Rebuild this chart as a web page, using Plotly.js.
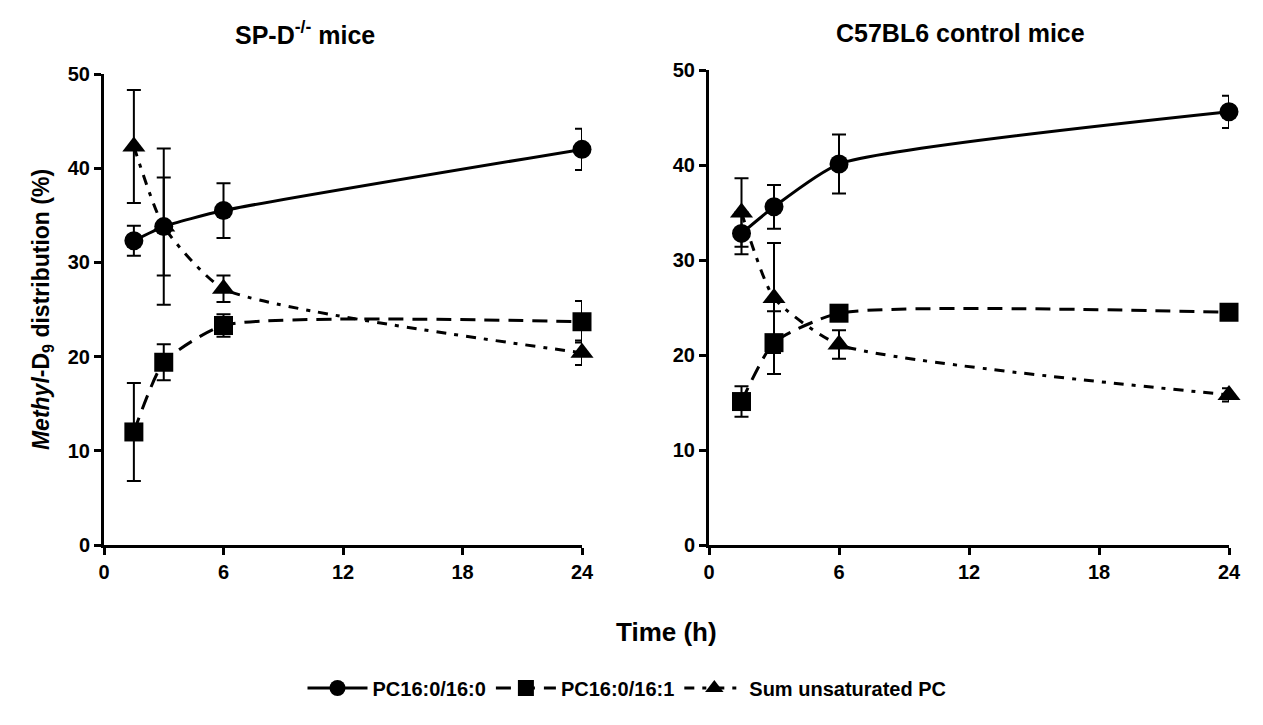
<!DOCTYPE html>
<html>
<head>
<meta charset="utf-8">
<script src="https://cdn.plot.ly/plotly-3.0.1.min.js"></script>
<style>html,body{margin:0;padding:0;background:#fff;}#chart{width:1263px;height:725px;}</style>
</head>
<body>
<div id="chart"></div>
<script>
// Time points (h)
const times = [1.5, 3, 6, 24];
const xTicks = [0, 6, 12, 18, 24];
const yTicks = [0, 10, 20, 30, 40, 50];

// SP-D-/- mice
const spdPC160 = [32.3, 33.8, 35.5, 42.0];
const spdPC160Err = [1.6, 5.2, 2.9, 2.2];
const spdPC161 = [12.0, 19.4, 23.3, 23.7];
const spdPC161Err = [5.2, 1.9, 1.2, 2.2];
const spdSum = [42.3, 33.8, 27.2, 20.4];
const spdSumErr = [6.0, 8.3, 1.4, 1.3];

// C57BL6 control mice
const ctlPC160 = [32.8, 35.6, 40.1, 45.6];
const ctlPC160Err = [2.2, 2.3, 3.1, 1.7];
const ctlPC161 = [15.1, 21.3, 24.4, 24.5];
const ctlPC161Err = [1.6, 3.3, 0.5, 0.3];
const ctlSum = [35.0, 26.0, 21.1, 15.8];
const ctlSumErr = [3.6, 5.8, 1.5, 0.7];

const seriesNames = ['PC16:0/16:0', 'PC16:0/16:1', 'Sum unsaturated PC'];

const FONT = 'Arial, "Liberation Sans", sans-serif';
const styles = [
  {symbol: 'circle', size: 19, dash: 'solid'},
  {symbol: 'square', size: 19, dash: '15px,9px'},
  {symbol: 'triangle-up', size: 20, dash: '10px,8px,4px,8px'}
];

function mk(y, err, idx, xa, ya, showLegend) {
  const s = styles[idx];
  return {
    x: times, y: y, type: 'scatter', mode: 'lines+markers',
    name: seriesNames[idx], legendgroup: seriesNames[idx], showlegend: showLegend,
    xaxis: xa, yaxis: ya, cliponaxis: false,
    line: {color: '#000', width: 3, dash: s.dash, shape: 'spline', smoothing: 0.55},
    marker: {symbol: s.symbol, size: s.size, color: '#000'},
    error_y: {type: 'data', array: err, visible: true, color: '#000', thickness: 2, width: 7}
  };
}

const data = [
  mk(spdPC160, spdPC160Err, 0, 'x', 'y', true),
  mk(spdPC161, spdPC161Err, 1, 'x', 'y', true),
  mk(spdSum, spdSumErr, 2, 'x', 'y', true),
  mk(ctlPC160, ctlPC160Err, 0, 'x2', 'y2', false),
  mk(ctlPC161, ctlPC161Err, 1, 'x2', 'y2', false),
  mk(ctlSum, ctlSumErr, 2, 'x2', 'y2', false)
];

const tickFont = {family: FONT, size: 20, color: '#000', weight: 'bold'};
function xAxis(dom, anchor) {
  return {domain: dom, anchor: anchor, range: [0, 24], tickvals: xTicks, ticktext: xTicks.map(String),
    showline: true, linewidth: 3, linecolor: '#000', ticks: 'outside', ticklen: 7, tickwidth: 3, tickcolor: '#000',
    showgrid: false, zeroline: false, tickfont: tickFont, fixedrange: true};
}
function yAxis(dom, anchor) {
  return {domain: dom, anchor: anchor, range: [0, 50], tickvals: yTicks, ticktext: yTicks.map(String),
    showline: true, linewidth: 3, linecolor: '#000', ticks: 'outside', ticklen: 7, tickwidth: 3, tickcolor: '#000',
    showgrid: false, zeroline: false, tickfont: tickFont, fixedrange: true};
}

const H = 725, W = 1263;
const layout = {
  width: W, height: H,
  margin: {l: 0, r: 0, t: 0, b: 0},
  paper_bgcolor: '#fff', plot_bgcolor: '#fff',
  font: {family: FONT, color: '#000'},
  xaxis: xAxis([104 / W, 582 / W], 'y'),
  yaxis: Object.assign(yAxis([(H - 545) / H, (H - 74) / H], 'x'), {
    title: {text: '<i>Methyl</i>-D<sub>9</sub> distribution (%)', font: {family: FONT, size: 23, color: '#000', weight: 'bold'}, standoff: 12}
  }),
  xaxis2: xAxis([709 / W, 1229 / W], 'y2'),
  yaxis2: yAxis([(H - 545) / H, (H - 70) / H], 'x2'),
  showlegend: true,
  legend: {orientation: 'h', x: 627 / W, xanchor: 'center', y: (H - 688) / H, yanchor: 'middle',
    font: {family: FONT, size: 20, color: '#000', weight: 'bold'}, itemwidth: 60, tracegroupgap: 0},
  annotations: [
    {text: 'SP-D<sup>-/-</sup> mice', xref: 'paper', yref: 'paper', x: 305 / W, y: (H - 33) / H,
      xanchor: 'center', yanchor: 'middle', showarrow: false, font: {family: FONT, size: 25, color: '#000', weight: 'bold'}},
    {text: 'C57BL6 control mice', xref: 'paper', yref: 'paper', x: 960 / W, y: (H - 33) / H,
      xanchor: 'center', yanchor: 'middle', showarrow: false, font: {family: FONT, size: 25, color: '#000', weight: 'bold'}},
    {text: 'Time (h)', xref: 'paper', yref: 'paper', x: 666 / W, y: (H - 632) / H,
      xanchor: 'center', yanchor: 'middle', showarrow: false, font: {family: FONT, size: 26, color: '#000', weight: 'bold'}}
  ]
};

Plotly.newPlot('chart', data, layout, {displayModeBar: false, staticPlot: true});
</script>
</body>
</html>
